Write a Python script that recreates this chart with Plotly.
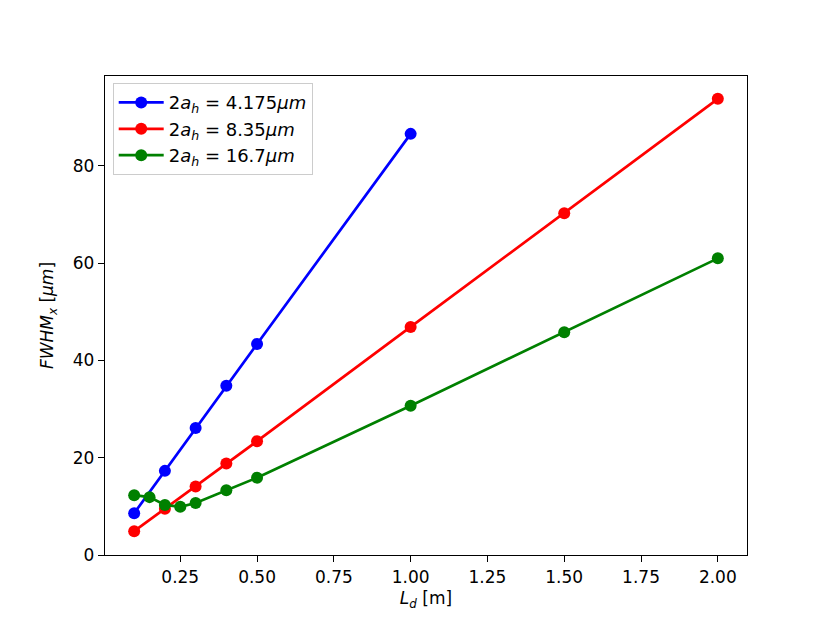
import plotly.graph_objects as go

# distances L_d [m]
ld_small = [0.1, 0.2, 0.3, 0.4, 0.5, 1.0]
ld_mid = [0.1, 0.2, 0.3, 0.4, 0.5, 1.0, 1.5, 2.0]
ld_large = [0.1, 0.15, 0.2, 0.25, 0.3, 0.4, 0.5, 1.0, 1.5, 2.0]

# FWHM_x [um]
fwhm_4175 = [8.6, 17.3, 26.1, 34.8, 43.4, 86.6]
fwhm_835 = [4.9, 9.5, 14.1, 18.8, 23.4, 46.9, 70.3, 93.8]
fwhm_167 = [12.3, 11.9, 10.3, 9.9, 10.7, 13.3, 15.9, 30.7, 45.8, 61.0]

series = [
    (ld_small, fwhm_4175, "blue", "2<i>a</i><sub><i>h</i></sub> = 4.175<i>μm</i>"),
    (ld_mid, fwhm_835, "red", "2<i>a</i><sub><i>h</i></sub> = 8.35<i>μm</i>"),
    (ld_large, fwhm_167, "green", "2<i>a</i><sub><i>h</i></sub> = 16.7<i>μm</i>"),
]

fig = go.Figure()
for x, y, color, name in series:
    fig.add_trace(go.Scatter(
        x=x, y=y, name=name,
        mode="lines+markers",
        line=dict(color=color, width=2.7),
        marker=dict(color=color, size=12),
    ))

axis_style = dict(
    showline=True, linecolor="black", linewidth=1.3, mirror=True,
    ticks="outside", ticklen=6, tickwidth=1.3, tickcolor="black",
    showgrid=False, zeroline=False,
    tickfont=dict(size=17, color="black"),
)

fig.update_layout(
    width=830, height=623,
    paper_bgcolor="white", plot_bgcolor="white",
    font=dict(family="DejaVu Sans", size=17, color="black"),
    margin=dict(l=97, r=91, t=68, b=76),
    showlegend=True,
    legend=dict(
        x=0.012, y=0.985, xanchor="left", yanchor="top",
        bordercolor="#cccccc", borderwidth=1, bgcolor="rgba(255,255,255,0.8)",
        font=dict(size=18), tracegroupgap=0, itemwidth=45,
    ),
    xaxis=dict(
        axis_style, range=[0.005, 2.095], tick0=0, dtick=0.25, tickformat=".2f",
        title=dict(text="<i>L</i><sub><i>d</i></sub> [m]", font=dict(size=17), standoff=6),
    ),
    yaxis=dict(
        axis_style, range=[0, 98.5], tick0=0, dtick=20,
        title=dict(text="<i>FWHM</i><sub><i>x</i></sub> [<i>μm</i>]", font=dict(size=17), standoff=14),
    ),
)

fig.write_html("out.html")
